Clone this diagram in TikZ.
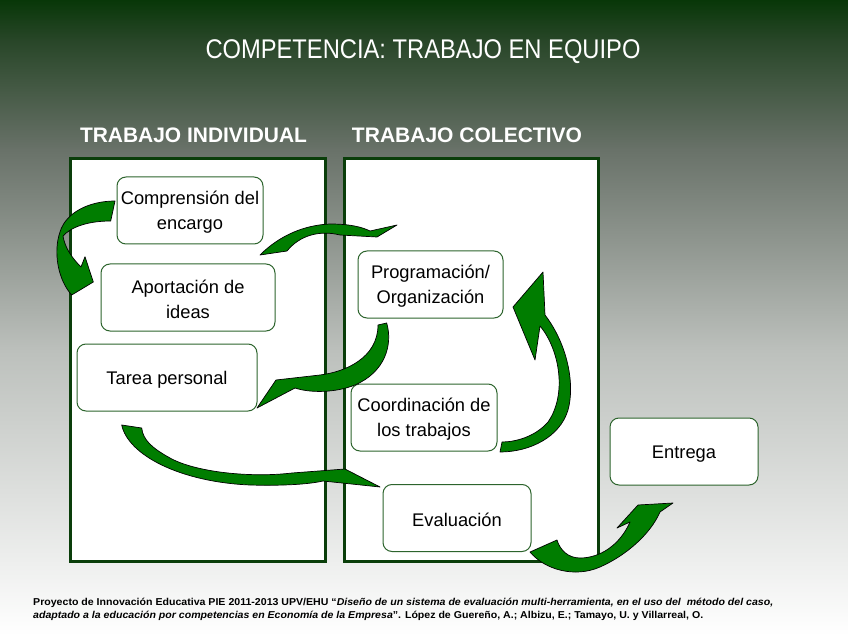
\documentclass[tikz,border=0pt]{standalone}
\usepackage{fontspec}
\usepackage{graphicx}
\setmainfont{Liberation Sans}
\definecolor{fondoA}{RGB}{8,55,8}
\definecolor{fondoB}{RGB}{40,70,40}
\definecolor{fondoC}{RGB}{105,114,105}
\definecolor{fondoD}{RGB}{188,192,188}
\definecolor{panelverde}{RGB}{10,62,10}
\definecolor{cajaverde}{RGB}{45,100,45}
\definecolor{flechaverde}{RGB}{0,125,0}

\begin{document}
\begin{tikzpicture}[x=1pt, y=-1pt,
    panel/.style={draw=panelverde, line width=3pt, fill=white},
    caja/.style={draw=cajaverde, line width=1pt, rounded corners=9pt, fill=white,
      minimum height=67pt, align=center, inner sep=2pt,
      font=\fontsize{18.3}{25.5}\selectfont},
    cabecera/.style={text=white, font=\fontsize{21}{24}\selectfont\bfseries, anchor=base},
    flecha/.style={fill=flechaverde, draw=black, line width=0.7pt, line join=round}]
    \useasboundingbox (0,0) rectangle (848,636);
    % fondo
    \shade[top color=fondoA, bottom color=fondoB] (0,0) rectangle (848,40.5);
    \shade[top color=fondoB, bottom color=fondoC] (0,40) rectangle (848,150.5);
    \shade[top color=fondoC, bottom color=fondoD] (0,150) rectangle (848,350.5);
    \shade[top color=fondoD, bottom color=white] (0,350) rectangle (848,636);

    \node[text=white, anchor=base, font=\fontsize{27}{30}\selectfont] (titulo) at (423,59)
      {\resizebox{435pt}{\height}{COMPETENCIA: TRABAJO EN EQUIPO}};
    \node[cabecera] (hindiv) at (193.5,143) {\resizebox{227pt}{\height}{TRABAJO INDIVIDUAL}};
    \node[cabecera] (hcolect) at (467,143) {\resizebox{230pt}{\height}{TRABAJO COLECTIVO}};

    \draw[panel] (70,159) rectangle (325,561);
    \draw[panel] (344,159) rectangle (598,561);

    \node[caja, minimum width=146pt] (compr) at (190,210.5) {\rule{0pt}{17pt}Comprensión del\\encargo};
    \node[caja, minimum width=174pt] (aport) at (188,297.5) {\rule{0pt}{17pt}Aportación de\\ideas};
    \node[caja, minimum width=180pt] (tarea) at (167,377.5) {\rule{0pt}{17pt}Tarea personal};
    \node[caja, minimum width=145pt] (progr) at (430.5,284.5) {\rule{0pt}{17pt}Programación/\\Organización};
    \node[caja, minimum width=146pt] (coord) at (424,417.5) {\rule{0pt}{17pt}Coordinación de\\los trabajos};
    \node[caja, minimum width=148pt] (evalu) at (457,518) {\rule{0pt}{17pt}Evaluación};
    \node[caja, minimum width=148pt] (entrega) at (684,451.5) {\rule{0pt}{17pt}Entrega};

    % flechas curvas
    \filldraw[flecha] (115,201) .. controls (90,201) and (66,212) .. (60,232)
      .. controls (53,252) and (58,280) .. (71.7,295) -- (93.3,282) -- (85,256.7) -- (81,267)
      .. controls (72,258) and (65,248) .. (63,236)
      .. controls (72,226) and (90,221) .. (110.7,221) -- cycle;
    \filldraw[flecha] (260,255) .. controls (280,235) and (305,225) .. (330,224)
      .. controls (350,224) and (362,227) .. (370,231) -- (397,225) -- (377,237) -- (340,235)
      .. controls (320,230) and (300,235) .. (287,251) -- cycle;
    \filldraw[flecha] (386.7,323) .. controls (393,345) and (385,372) .. (355,385)
      .. controls (335,393) and (310,393) .. (295,388) -- (257,408) -- (276,380) -- (320,375)
      .. controls (345,372) and (378,358) .. (378,325) -- cycle;
    \filldraw[flecha] (121.7,425) .. controls (128,455) and (180,482) .. (250,485)
      .. controls (285,486) and (310,484) .. (323,481) -- (380,487) -- (345,469) -- (292,473)
      .. controls (250,478) and (195,472) .. (170,458)
      .. controls (152,448) and (143,440) .. (141.7,428) -- cycle;
    \filldraw[flecha] (500,452) .. controls (530,452) and (560,437) .. (568,410)
      .. controls (575,385) and (568,345) .. (545,315) -- (543,272) -- (513,307) -- (535,360) -- (540,326)
      .. controls (560,350) and (567,395) .. (548,422)
      .. controls (535,437) and (515,442) .. (502,442) -- cycle;
    \filldraw[flecha] (530,552) .. controls (545,570) and (575,578) .. (600,567)
      .. controls (625,556) and (650,535) .. (660,512) -- (673,503) -- (638,505) -- (617,528) -- (630,522)
      .. controls (620,545) and (600,558) .. (580,558)
      .. controls (568,558) and (560,550) .. (557,540) -- cycle;

    \node[anchor=base west, inner sep=0pt, font=\fontsize{10}{12}\selectfont\bfseries] (pie1) at (33,605)
      {\resizebox{740pt}{\height}{Proyecto de Innovación Educativa PIE 2011-2013 UPV/EHU “\textit{Diseño de un sistema de evaluación multi-herramienta, en el uso del\ \ método del caso,}}};
    \node[anchor=base west, inner sep=0pt, font=\fontsize{10}{12}\selectfont\bfseries] (pie2) at (33,618)
      {\resizebox{670pt}{\height}{\textit{adaptado a la educación por competencias en Economía de la Empresa}”. López de Guereño, A.; Albizu, E.; Tamayo, U. y Villarreal, O.}};
\end{tikzpicture}
\end{document}
